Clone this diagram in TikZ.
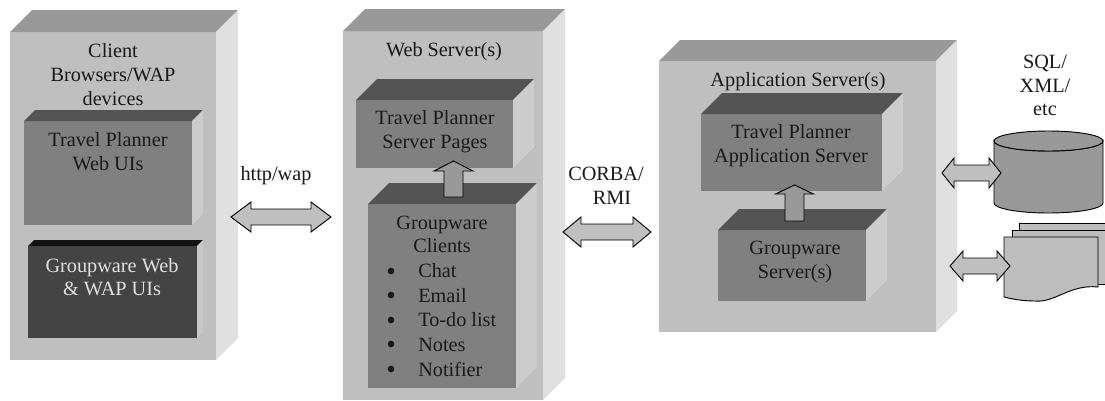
\documentclass[tikz,border=0pt]{standalone}
\usepackage{fontspec}
\setmainfont{Liberation Serif}
\definecolor{outerfront}{gray}{0.75}
\definecolor{outertop}{gray}{0.6}
\definecolor{outerside}{gray}{0.88}
\definecolor{innerfront}{gray}{0.5}
\definecolor{innertop}{gray}{0.33}
\definecolor{innerside}{gray}{0.8}
\definecolor{darkfront}{gray}{0.265}
\definecolor{darktop}{gray}{0.07}
\definecolor{darkside}{gray}{0.78}
\definecolor{arrowfill}{gray}{0.75}
\definecolor{upfill}{gray}{0.6}
\definecolor{dbfill}{gray}{0.6}
\definecolor{docfill}{gray}{0.74}
\tikzset{
  lbl/.style={inner sep=0pt,align=center,font=\fontsize{15.2}{17.7}\selectfont,text=black!90},
  item/.style={inner sep=0pt,anchor=base west,font=\fontsize{15.2}{17.7}\selectfont,text=black!90},
  dot/.style={circle,inner sep=0pt,minimum size=5pt,fill=black!90},
  blockarrow/.style={draw=black,line width=0.7pt,fill=arrowfill,line join=miter},
  solid shape/.style={draw=black,line width=0.7pt},
}
% name, x0,y0,x1,y1 (front face), depth, colour prefix
\newcommand{\cuboid}[7]{%
  \fill[#7front] (#2,#3) rectangle (#4,#5);
  \fill[#7top] (#2,#3) -- ({#2+#6},{#3-#6}) -- ({#4+#6},{#3-#6}) -- (#4,#3) -- cycle;
  \fill[#7side] (#4,#3) -- ({#4+#6},{#3-#6}) -- ({#4+#6},{#5-#6}) -- (#4,#5) -- cycle;
  \coordinate (#1) at ({(#2+#4)/2},{(#3+#5)/2});
}
% left tip, left neck, right neck, right tip, y
\newcommand{\dblarrow}[6]{%
  \coordinate (#1-l) at (#2,#6);
  \coordinate (#1-r) at (#5,#6);
  \draw[blockarrow] (#1-l) -- (#3,#6-15) -- (#3,#6-8) -- (#4,#6-8) -- (#4,#6-15)
    -- (#1-r) -- (#4,#6+15) -- (#4,#6+8) -- (#3,#6+8) -- (#3,#6+15) -- cycle;
}
% centre x, half stem, half wing, bottom, neck, tip
\newcommand{\uparrowblock}[7]{%
  \coordinate (#1-b) at (#2,#5);
  \coordinate (#1-t) at (#2,#7);
  \draw[blockarrow,fill=upfill] (#2-#3,#5) -- (#2-#3,#6) -- (#2-#4,#6) -- (#1-t)
    -- (#2+#4,#6) -- (#2+#3,#6) -- (#2+#3,#5) -- cycle;
}
\begin{document}
\begin{tikzpicture}[x=0.75pt,y=-0.75pt]
\useasboundingbox (0,0) rectangle (1105,400);
\fill[white] (0,0) rectangle (1105,400);

% client
\cuboid{client}{10}{32}{216}{360}{22}{outer}
\cuboid{webui}{24}{121}{192}{225}{11}{inner}
\cuboid{gwui}{28}{246}{197}{338}{6}{dark}
\node[lbl] (clientlbl) at (113,74.5) {Client\\Browsers/WAP\\devices};
\node[lbl] (webuilbl) at (108,151.5) {Travel Planner\\Web UIs};
\node[lbl,text=white!88!black] (gwuilbl) at (112,277) {Groupware Web\\\& WAP UIs};

% web server
\cuboid{web}{343}{31}{543}{400}{22}{outer}
\cuboid{pages}{356}{100}{513}{168}{21}{inner}
\cuboid{gwc}{368}{204}{516}{388}{21}{inner}
\node[lbl] (weblbl) at (444,52) {Web Server(s)};
\node[lbl] (pageslbl) at (435,131.5) {Travel Planner\\Server Pages};
\node[lbl] (gwclbl) at (442,234.5) {Groupware\\Clients};
\uparrowblock{pg}{453.5}{9.5}{19.5}{197}{171}{161}
\node[dot] (b1) at (391,271) {};
\node[dot] (b2) at (391,295) {};
\node[dot] (b3) at (391,320) {};
\node[dot] (b4) at (391,344) {};
\node[dot] (b5) at (391,369) {};
\node[item] (i1) at (418,277) {Chat};
\node[item] (i2) at (418,302) {Email};
\node[item] (i3) at (418,326) {To-do list};
\node[item] (i4) at (418,351) {Notes};
\node[item] (i5) at (418,376) {Notifier};

% application server
\cuboid{app}{659}{61}{936}{332}{21}{outer}
\cuboid{tpas}{701}{114}{882}{191}{21}{inner}
\cuboid{gws}{718}{230}{866}{301}{21}{inner}
\node[lbl] (applbl) at (798,82) {Application Server(s)};
\node[lbl] (tpaslbl) at (791,145.5) {Travel Planner\\Application Server};
\node[lbl] (gwslbl) at (795,262) {Groupware\\Server(s)};
\uparrowblock{as}{794.5}{9.5}{19}{221}{194}{185}

% protocol labels and arrows
\node[lbl] (httplbl) at (276,176) {http/wap};
\node[lbl] (corbalbl) at (606,185.5) {CORBA/\\\hspace*{9pt}RMI};
\dblarrow{http}{231}{251}{311}{331}{217}
\dblarrow{corba}{563}{581}{633}{651}{232}

% database
\node[lbl] (sqllbl) at (1045,85.5) {SQL/\\XML/\\etc};
\draw[solid shape,fill=dbfill] (994,141) -- (994,203) arc[start angle=180,end angle=0,x radius=54.5,y radius=10]
  -- (1103,141) arc[start angle=0,end angle=180,x radius=54.5,y radius=10] -- cycle;
\draw[solid shape,fill=dbfill] (1048.5,141) ellipse[x radius=54.5,y radius=10];
\coordinate (db) at (994,173);
\dblarrow{dba}{942}{954}{989}{1001}{173}

% documents
\draw[solid shape,fill=docfill] (1019,223) -- (1107,223) -- (1107,281) -- (1019,281) -- cycle;
\draw[solid shape,fill=docfill] (1012,230) -- (1107,230) -- (1107,284) -- (1012,284) -- cycle;
\draw[solid shape,fill=docfill] (1004,237) -- (1098,237) -- (1098,287)
  .. controls (1070,284) and (1055,303) .. (1035,301)
  .. controls (1022,301) and (1012,299) .. (1004,297) -- cycle;
\coordinate (docs) at (1004,266);
\dblarrow{doca}{950}{963}{997}{1010}{266}
\end{tikzpicture}
\end{document}
